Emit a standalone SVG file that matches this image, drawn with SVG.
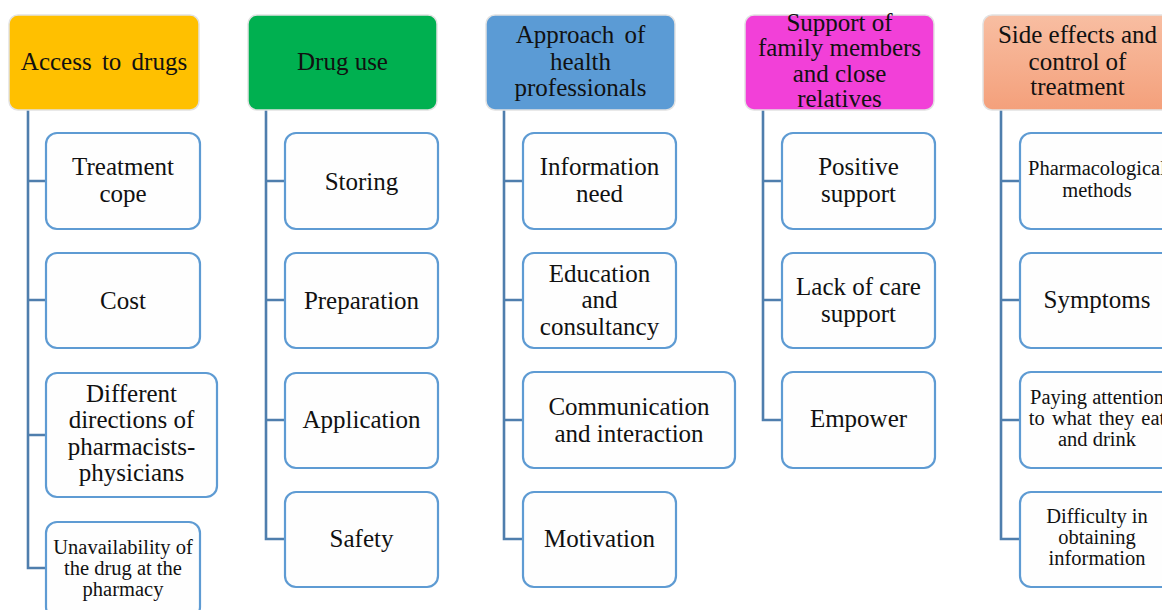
<svg xmlns="http://www.w3.org/2000/svg" width="1162" height="610" viewBox="0 0 1162 610">
  <defs>
    <linearGradient id="salmon" x1="0" y1="0" x2="0" y2="1">
      <stop offset="0" stop-color="#F8BEA2"/>
      <stop offset="1" stop-color="#F4A07B"/>
    </linearGradient>
    <style>
      .hdr { stroke: #E2E2E2; stroke-width: 1.5; }
      .box { fill: #FEFEFE; stroke: #5E9BD3; stroke-width: 2.2; }
      .lnk { fill: none; stroke: #4F7EAD; stroke-width: 2.6; }
      text { fill: #111; text-anchor: middle; }
      .big { font-size: 25px; }
      .sm { font-size: 20.5px; }
    </style>
  </defs>
  <rect width="1162" height="610" fill="#FFFFFF"/>

  <!-- connectors: one trunk per column, with a branch into each child box -->
  <g id="connectors">
    <path class="lnk" d="M28 110 V568 H46 M28 181 H46 M28 300 H46 M28 435 H46"/>
    <path class="lnk" d="M266 110 V539 H285 M266 181 H285 M266 300 H285 M266 420 H285"/>
    <path class="lnk" d="M504 110 V539 H523 M504 181 H523 M504 300 H523 M504 420 H523"/>
    <path class="lnk" d="M763 110 V420 H782 M763 181 H782 M763 300 H782"/>
    <path class="lnk" d="M1001 110 V539 H1020 M1001 181 H1020 M1001 300 H1020 M1001 420 H1020"/>
  </g>

  <g font-family="Liberation Serif, 'Times New Roman', serif">
  <!-- column 1 -->
  <g id="access">
    <rect class="hdr" x="9" y="15" width="190" height="95" rx="9" fill="#FFC000"/>
    <text class="big" x="104" y="70" word-spacing="4">Access to drugs</text>
  </g>
  <g id="treatment-cope">
    <rect class="box" x="46" y="133" width="154" height="96" rx="11"/>
    <text class="big" x="123" y="175">Treatment</text>
    <text class="big" x="123" y="202">cope</text>
  </g>
  <g id="cost">
    <rect class="box" x="46" y="253" width="154" height="95" rx="11"/>
    <text class="big" x="123" y="309">Cost</text>
  </g>
  <g id="directions">
    <rect class="box" x="46" y="373" width="171" height="124" rx="11"/>
    <text class="big" x="131.5" y="402">Different</text>
    <text class="big" x="131.5" y="428">directions of</text>
    <text class="big" x="131.5" y="455">pharmacists-</text>
    <text class="big" x="131.5" y="481">physicians</text>
  </g>
  <g id="unavailability">
    <rect class="box" x="46" y="522" width="154" height="96" rx="11"/>
    <text class="sm" x="123" y="554">Unavailability of</text>
    <text class="sm" x="123" y="575">the drug at the</text>
    <text class="sm" x="123" y="596">pharmacy</text>
  </g>

  <!-- column 2 -->
  <g id="drug-use">
    <rect class="hdr" x="248" y="15" width="189" height="95" rx="9" fill="#00B050"/>
    <text class="big" x="342.5" y="70">Drug use</text>
  </g>
  <g id="storing">
    <rect class="box" x="285" y="133" width="153" height="96" rx="11"/>
    <text class="big" x="361.5" y="190">Storing</text>
  </g>
  <g id="preparation">
    <rect class="box" x="285" y="253" width="153" height="95" rx="11"/>
    <text class="big" x="361.5" y="309">Preparation</text>
  </g>
  <g id="application">
    <rect class="box" x="285" y="373" width="153" height="95" rx="11"/>
    <text class="big" x="361.5" y="428">Application</text>
  </g>
  <g id="safety">
    <rect class="box" x="285" y="492" width="153" height="95" rx="11"/>
    <text class="big" x="361.5" y="547">Safety</text>
  </g>

  <!-- column 3 -->
  <g id="professionals">
    <rect class="hdr" x="486" y="15" width="189" height="95" rx="9" fill="#5B9BD5"/>
    <text class="big" x="580.5" y="43" word-spacing="4">Approach of</text>
    <text class="big" x="580.5" y="70">health</text>
    <text class="big" x="580.5" y="96">professionals</text>
  </g>
  <g id="information-need">
    <rect class="box" x="523" y="133" width="153" height="96" rx="11"/>
    <text class="big" x="599.5" y="175">Information</text>
    <text class="big" x="599.5" y="202">need</text>
  </g>
  <g id="education">
    <rect class="box" x="523" y="253" width="153" height="95" rx="11"/>
    <text class="big" x="599.5" y="282">Education</text>
    <text class="big" x="599.5" y="308">and</text>
    <text class="big" x="599.5" y="335">consultancy</text>
  </g>
  <g id="communication">
    <rect class="box" x="523" y="372" width="212" height="96" rx="11"/>
    <text class="big" x="629" y="415">Communication</text>
    <text class="big" x="629" y="442">and interaction</text>
  </g>
  <g id="motivation">
    <rect class="box" x="523" y="492" width="153" height="95" rx="11"/>
    <text class="big" x="599.5" y="547">Motivation</text>
  </g>

  <!-- column 4 -->
  <g id="family">
    <rect class="hdr" x="745" y="15" width="189" height="95" rx="9" fill="#F240D8"/>
    <text class="big" x="839.5" y="31">Support of</text>
    <text class="big" x="839.5" y="56">family members</text>
    <text class="big" x="839.5" y="82">and close</text>
    <text class="big" x="839.5" y="107">relatives</text>
  </g>
  <g id="positive-support">
    <rect class="box" x="782" y="133" width="153" height="96" rx="11"/>
    <text class="big" x="858.5" y="175">Positive</text>
    <text class="big" x="858.5" y="202">support</text>
  </g>
  <g id="lack-of-care">
    <rect class="box" x="782" y="253" width="153" height="95" rx="11"/>
    <text class="big" x="858.5" y="295">Lack of care</text>
    <text class="big" x="858.5" y="322">support</text>
  </g>
  <g id="empower">
    <rect class="box" x="782" y="372" width="153" height="96" rx="11"/>
    <text class="big" x="858.5" y="427">Empower</text>
  </g>

  <!-- column 5 -->
  <g id="side-effects">
    <rect class="hdr" x="983" y="15" width="190" height="95" rx="9" fill="url(#salmon)"/>
    <text class="big" x="1077.5" y="43">Side effects and</text>
    <text class="big" x="1077.5" y="70">control of</text>
    <text class="big" x="1077.5" y="95">treatment</text>
  </g>
  <g id="pharmacological">
    <rect class="box" x="1020" y="133" width="154" height="96" rx="11"/>
    <text class="sm" x="1097" y="175">Pharmacological</text>
    <text class="sm" x="1097" y="197">methods</text>
  </g>
  <g id="symptoms">
    <rect class="box" x="1020" y="253" width="154" height="95" rx="11"/>
    <text class="big" x="1097" y="308">Symptoms</text>
  </g>
  <g id="eat-drink">
    <rect class="box" x="1020" y="372" width="154" height="96" rx="11"/>
    <text class="sm" x="1097" y="404">Paying attention</text>
    <text class="sm" x="1097" y="425" word-spacing="2">to what they eat</text>
    <text class="sm" x="1097" y="446">and drink</text>
  </g>
  <g id="difficulty">
    <rect class="box" x="1020" y="492" width="154" height="95" rx="11"/>
    <text class="sm" x="1097" y="523">Difficulty in</text>
    <text class="sm" x="1097" y="544">obtaining</text>
    <text class="sm" x="1097" y="565">information</text>
  </g>
  </g>
</svg>
